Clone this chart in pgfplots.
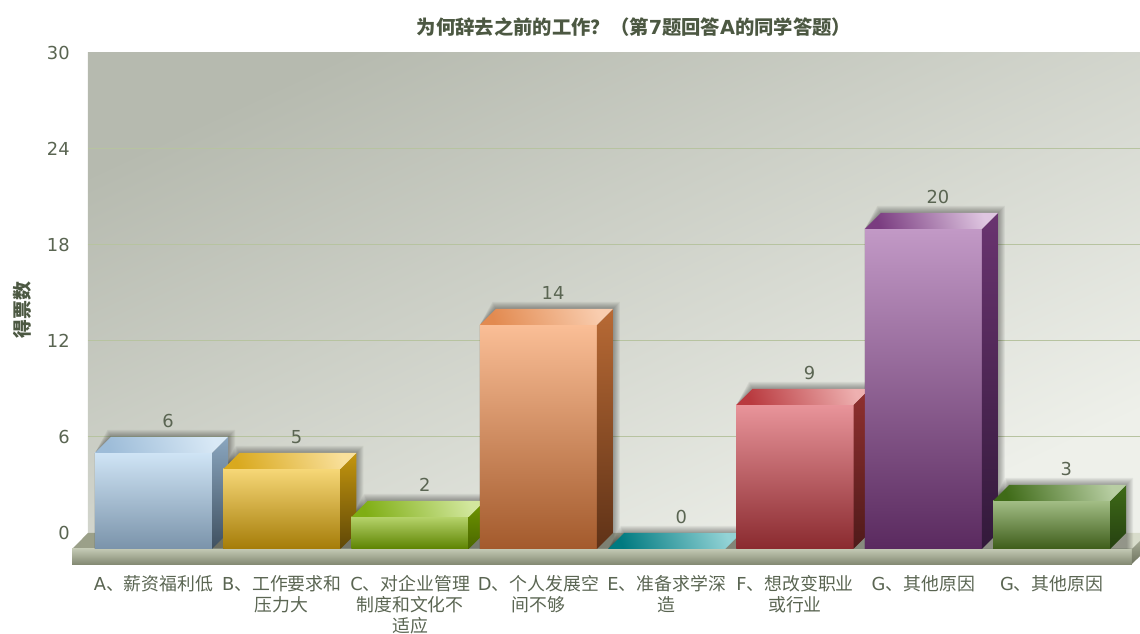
\documentclass[border=0pt]{standalone}
\usepackage{fontspec}
\setmainfont{DejaVu Sans}
\newfontfamily\cjk{Noto Sans CJK SC}
\usepackage{pgfplots}
\pgfplotsset{compat=1.18}
\usepackage{xcolor}

\definecolor{txt}{HTML}{5A6552}
\definecolor{ttl}{HTML}{4C5842}
\definecolor{gridc}{HTML}{B7C3A0}
\definecolor{B1}{HTML}{B6BAAF}
\definecolor{B2}{HTML}{EEF0EA}
\definecolor{F1}{HTML}{9A9F88}
\definecolor{F2}{HTML}{D8DCCB}
\definecolor{F3}{HTML}{C2C8B3}
\definecolor{F4}{HTML}{858B74}
\definecolor{F5}{HTML}{A3A893}
\definecolor{F6}{HTML}{6F745F}

% palette: front top/bottom, top face left/right, side top/bottom
\newcommand{\pal}[7]{%
  \definecolor{#1Ft}{HTML}{#2}\definecolor{#1Fb}{HTML}{#3}%
  \definecolor{#1Tl}{HTML}{#4}\definecolor{#1Tr}{HTML}{#5}%
  \definecolor{#1St}{HTML}{#6}\definecolor{#1Sb}{HTML}{#7}}
\pal{a}{CFE4F5}{7A93AA}{9DBCD8}{D9E9F6}{8AA6BF}{3F5060}
\pal{b}{F6D777}{A57C08}{D9A91E}{F9E09B}{C4960F}{5F4706}
\pal{c}{B5D26A}{5D8300}{7FAE14}{D2E79E}{6F9800}{4A6600}
\pal{d}{FABE96}{A35A2C}{E28A50}{F9CDAF}{B86A35}{5F3217}
\pal{e}{007A80}{007A80}{007A80}{93D3D6}{007A80}{007A80}
\pal{f}{E8949A}{8A2A2F}{B93A3F}{EEB0B0}{90302F}{4F1A1A}
\pal{g}{C299C6}{5A2A5F}{7A3C80}{DFC6E1}{6A3470}{32193A}
\pal{h}{A2BD85}{3E5D1A}{3F6B18}{B8CEA3}{3F6B18}{254010}

% half bar width and depth in x units, depth is 1 unit in y
\def\hw{0.456}
\def\dpt{0.1247}

\newcommand{\barshadow}[2]{%
  \pgfplotsforeachungrouped \e in {1,2,3,4,5,6,7}{%
    \pgfmathsetmacro\xa{#1-\hw}
    \pgfmathsetmacro\xb{#1-\hw+\dpt-0.5*\e/128.3}
    \pgfmathsetmacro\xc{#1+\hw+\dpt+\e/128.3}
    \pgfmathsetmacro\yt{#2+\e/16}
    \pgfmathsetmacro\ym{#2-1}
    \edef\tmp{\noexpand\addplot[draw=none,fill=black,fill opacity=0.05]
      coordinates {(\xa,-1)(\xa,\ym)(\xb,\yt)(\xc,\yt)(\xc,-1)} -- cycle;}
    \tmp
  }}

\newcommand{\cube}[3]{%
  \pgfmathsetmacro\xa{#1-\hw}
  \pgfmathsetmacro\xb{#1+\hw}
  \pgfmathsetmacro\xc{#1-\hw+\dpt}
  \pgfmathsetmacro\xd{#1+\hw+\dpt}
  \pgfmathsetmacro\ym{#2-1}
  \ifnum#2>0
  \addplot[draw=none,top color=#3Ft,bottom color=#3Fb]
    coordinates {(\xa,-1)(\xa,\ym)(\xb,\ym)(\xb,-1)} -- cycle;
  \addplot[draw=none,top color=#3St,bottom color=#3Sb]
    coordinates {(\xb,-1)(\xb,\ym)(\xd,#2)(\xd,0)} -- cycle;
  \fi
  \addplot[draw=none,top color=#3Tr,bottom color=#3Tl,shading angle=-70]
    coordinates {(\xa,\ym)(\xc,#2)(\xd,#2)(\xb,\ym)} -- cycle;
}

\begin{document}
\begin{tikzpicture}
\path[use as bounding box] (0,0) rectangle (855pt,475.5pt);
\begin{axis}[
  at={(66pt,75.75pt)}, anchor=south west,
  scale only axis, width=789pt, height=360pt,
  clip=false,
  xmin=-0.5105, xmax=7.689, ymin=0, ymax=30,
  axis line style={draw=none},
  major tick length=0pt,
  axis background/.style={top color=B1,bottom color=B2,shading angle=25},
  ytick={0,6,12,18,24,30},
  extra y ticks={6,12,18,24},
  extra y tick labels={},
  extra tick style={grid=major,grid style={gridc,line width=0.75pt}},
  xtick={0,1,2,3,4,5,6,7},
  xticklabels={
    {A\cjk、薪资福利低},
    {B\cjk、工作要求和\\\cjk 压力大},
    {C\cjk、对企业管理\\\cjk 制度和文化不\\\cjk 适应},
    {D\cjk、个人发展空\\\cjk 间不够},
    {E\cjk、准备求学深\\\cjk 造},
    {F\cjk、想改变职业\\\cjk 或行业},
    {G\cjk、其他原因},
    {G\cjk、其他原因}},
  /pgf/number format/assume math mode=true,
  tick label style={font=\fontsize{13.4}{15.75}\selectfont,text=txt},
  yticklabel style={anchor=east,inner sep=0pt,xshift=-13.5pt},
  xticklabel style={anchor=north,inner sep=0pt,align=center,yshift=-31.5pt},
  title={\cjk\bfseries 为何辞去之前的工作？（第{\normalfont\bfseries 7}题回答{\normalfont\bfseries A}的同学答题）},
  title style={at={(axis description cs:0.519,1.037)},anchor=center,inner sep=0pt,
    font=\fontsize{14.5}{16}\selectfont,text=ttl},
  ylabel={\cjk\bfseries 得票数},
  every axis y label/.style={at={(axis description cs:-0.0627,0.4646)},rotate=90,
    anchor=center,inner sep=0pt,font=\fontsize{14.2}{16}\selectfont,text=ttl},
]
% floor
\addplot[draw=none,left color=F1,right color=F2]
  coordinates {(-0.635,-1)(-0.5105,0)(7.689,0)(7.689,-0.5)(7.626,-1)} -- cycle;
\addplot[draw=none,top color=F3,bottom color=F4]
  coordinates {(-0.635,-1.94)(-0.635,-1)(7.626,-1)(7.626,-1.94)} -- cycle;
\addplot[draw=none,top color=F5,bottom color=F6]
  coordinates {(7.626,-1.94)(7.626,-1)(7.689,-0.5)(7.689,-1.44)} -- cycle;

\barshadow{0}{6}
\barshadow{1}{5}
\barshadow{2}{2}
\barshadow{3}{14}
\barshadow{4}{0}
\barshadow{5}{9}
\barshadow{6}{20}
\barshadow{7}{3}

\cube{0}{6}{a}
\cube{1}{5}{b}
\cube{2}{2}{c}
\cube{3}{14}{d}
\cube{4}{0}{e}
\cube{5}{9}{f}
\cube{6}{20}{g}
\cube{7}{3}{h}

% value labels, one unit above the back edge of each top face
\addplot[draw=none,nodes near coords,
  nodes near coords style={anchor=center,inner sep=0pt,yshift=12pt,xshift=-1pt,
    font=\fontsize{13.4}{15.75}\selectfont,text=txt}]
  coordinates {(0.1247,6)(1.1247,5)(2.1247,2)(3.1247,14)(4.1247,0)(5.1247,9)(6.1247,20)(7.1247,3)};
\end{axis}
\end{tikzpicture}
\end{document}
